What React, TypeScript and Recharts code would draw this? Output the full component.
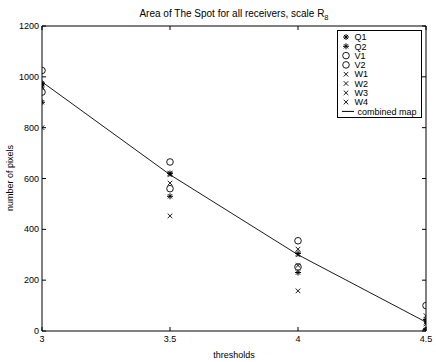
import React from "react";
import { ComposedChart, Scatter, Line, XAxis, YAxis, Legend } from "recharts";

const thresholds = [3, 3.5, 4, 4.5];
const xTicks = [3, 3.5, 4, 4.5];
const yTicks = [0, 200, 400, 600, 800, 1000, 1200];

const q1 = [975, 620, 305, 45];
const q2 = [900, 530, 230, 5];
const v1 = [1025, 665, 355, 100];
const v2 = [940, 560, 252, 0];
const w1 = [970, 620, 322, 60];
const w2 = [965, 582, 300, 35];
const w3 = [960, 615, 258, 28];
const w4 = [800, 453, 158, 0];
const combined = [980, 615, 300, 35];

const FONT = '"Liberation Sans", Arial, Helvetica, sans-serif';
const INK = "#000";

const toPts = (vals: number[]) => thresholds.map((x, i) => ({ x, y: vals[i] }));

const Star = ({ cx, cy }: any) => {
  const r = 3;
  const d = r * 0.7;
  return (
    <g stroke={INK} strokeWidth={1}>
      <line x1={cx - r} y1={cy} x2={cx + r} y2={cy} />
      <line x1={cx} y1={cy - r} x2={cx} y2={cy + r} />
      <line x1={cx - d} y1={cy - d} x2={cx + d} y2={cy + d} />
      <line x1={cx - d} y1={cy + d} x2={cx + d} y2={cy - d} />
    </g>
  );
};

const Circ = ({ cx, cy }: any) => (
  <circle cx={cx} cy={cy} r={3.3} fill="none" stroke={INK} strokeWidth={0.9} />
);

const Cross = ({ cx, cy }: any) => {
  const r = 2.3;
  return (
    <g stroke={INK} strokeWidth={0.9}>
      <line x1={cx - r} y1={cy - r} x2={cx + r} y2={cy + r} />
      <line x1={cx - r} y1={cy + r} x2={cx + r} y2={cy - r} />
    </g>
  );
};

const series = [
  { name: "Q1", vals: q1, Shape: Star },
  { name: "Q2", vals: q2, Shape: Star },
  { name: "V1", vals: v1, Shape: Circ },
  { name: "V2", vals: v2, Shape: Circ },
  { name: "W1", vals: w1, Shape: Cross },
  { name: "W2", vals: w2, Shape: Cross },
  { name: "W3", vals: w3, Shape: Cross },
  { name: "W4", vals: w4, Shape: Cross },
];

const BottomTick = ({ x, y, payload }: any) => (
  <g>
    <line x1={x} y1={y} x2={x} y2={y - 4} stroke={INK} strokeWidth={1} />
    <text x={x} y={y + 11} textAnchor="middle" fontSize={9} fontFamily={FONT} fill={INK}>
      {payload.value}
    </text>
  </g>
);

const TopTick = ({ x, y }: any) => (
  <line x1={x} y1={y} x2={x} y2={y + 4} stroke={INK} strokeWidth={1} />
);

const LeftTick = ({ x, y, payload }: any) => (
  <g>
    <line x1={x} y1={y} x2={x + 4} y2={y} stroke={INK} strokeWidth={1} />
    <text x={x - 3} y={y + 3} textAnchor="end" fontSize={9} fontFamily={FONT} fill={INK}>
      {payload.value}
    </text>
  </g>
);

const RightTick = ({ x, y }: any) => (
  <line x1={x} y1={y} x2={x - 4} y2={y} stroke={INK} strokeWidth={1} />
);

const LegendBox = () => {
  const rowH = 9.3;
  return (
    <div style={{ border: "1px solid #000", background: "#fff", width: 85, height: 88, boxSizing: "border-box" }}>
      <svg width={84} height={87} style={{ display: "block" }}>
        {series.map((s, i) => {
          const cy = 6 + i * rowH;
          const S = s.Shape;
          return (
            <g key={s.name}>
              <S cx={8} cy={cy} />
              <text x={16.5} y={cy + 3.2} fontSize={9} fontFamily={FONT} fill={INK}>
                {s.name}
              </text>
            </g>
          );
        })}
        <line x1={4} y1={6 + 8 * rowH} x2={16} y2={6 + 8 * rowH} stroke={INK} strokeWidth={1} />
        <text x={19.5} y={6 + 8 * rowH + 3.2} fontSize={9} fontFamily={FONT} fill={INK}>
          combined map
        </text>
      </svg>
    </div>
  );
};

export default function App() {
  return (
    <div style={{ position: "absolute", left: 0, top: 0, width: 436, height: 362, background: "#fff" }}>
      <ComposedChart
        width={436}
        height={362}
        margin={{ top: 25, right: 9, bottom: 0, left: 0 }}
        style={{ fontFamily: FONT }}
      >
        <XAxis
          xAxisId="b"
          dataKey="x"
          type="number"
          domain={[3, 4.5]}
          ticks={xTicks}
          height={31}
          tickSize={0}
          tickMargin={0}
          tickLine={false}
          axisLine={{ stroke: INK, strokeWidth: 1 }}
          tick={<BottomTick />}
          interval={0}
          allowDataOverflow
        />
        <XAxis
          xAxisId="t"
          dataKey="x"
          type="number"
          orientation="top"
          domain={[3, 4.5]}
          ticks={xTicks}
          height={1}
          tickSize={0}
          tickMargin={0}
          tickLine={false}
          axisLine={{ stroke: INK, strokeWidth: 1 }}
          tick={<TopTick />}
          interval={0}
          allowDataOverflow
        />
        <YAxis
          yAxisId="l"
          type="number"
          domain={[0, 1200]}
          ticks={yTicks}
          width={42}
          tickSize={0}
          tickMargin={0}
          tickLine={false}
          axisLine={{ stroke: INK, strokeWidth: 1 }}
          tick={<LeftTick />}
          interval={0}
          allowDataOverflow
        />
        <YAxis
          yAxisId="r"
          type="number"
          orientation="right"
          domain={[0, 1200]}
          ticks={yTicks}
          width={1}
          tickSize={0}
          tickMargin={0}
          tickLine={false}
          axisLine={{ stroke: INK, strokeWidth: 1 }}
          tick={<RightTick />}
          interval={0}
          allowDataOverflow
        />
        <Line
          xAxisId="t"
          yAxisId="r"
          data={toPts(combined)}
          dataKey="y"
          name="frame"
          stroke="#fff"
          strokeOpacity={0}
          strokeWidth={0}
          dot={false}
          activeDot={false}
          legendType="none"
          isAnimationActive={false}
        />
        <Line
          xAxisId="b"
          yAxisId="l"
          data={toPts(combined)}
          dataKey="y"
          name="combined map"
          stroke={INK}
          strokeWidth={0.9}
          dot={false}
          activeDot={false}
          isAnimationActive={false}
        />
        {series.map((s) => (
          <Scatter
            key={s.name}
            xAxisId="b"
            yAxisId="l"
            name={s.name}
            data={toPts(s.vals)}
            dataKey="y"
            shape={(p: any) => <s.Shape cx={p.cx} cy={p.cy} />}
            isAnimationActive={false}
          />
        ))}
        <Legend
          layout="vertical"
          align="center"
          verticalAlign="middle"
          wrapperStyle={{ top: 30, left: 337, width: 85, height: 88 }}
          content={() => <LegendBox />}
        />
        <text x={234} y={17} textAnchor="middle" fontSize={10} fontFamily={FONT} fill={INK}>
          Area of The Spot for all receivers, scale R
          <tspan dy={3} fontSize={7.5}>8</tspan>
        </text>
        <text x={234} y={358} textAnchor="middle" fontSize={9} fontFamily={FONT} fill={INK}>
          thresholds
        </text>
        <text
          x={12.5}
          y={178}
          textAnchor="middle"
          fontSize={9}
          fontFamily={FONT}
          fill={INK}
          transform="rotate(-90 12.5 178)"
        >
          number of pixels
        </text>
      </ComposedChart>
    </div>
  );
}
